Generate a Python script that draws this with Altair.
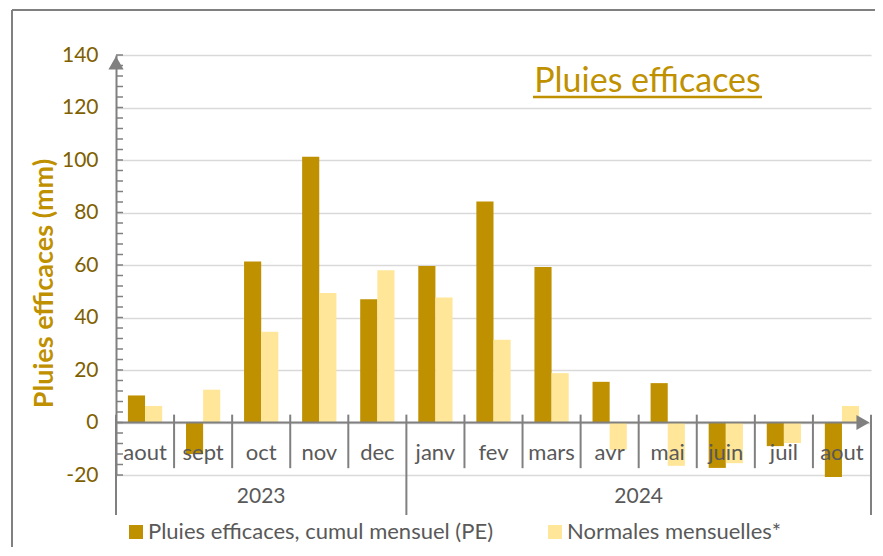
import altair as alt
import pandas as pd

# ---- data ----
months = ["aout", "sept", "oct", "nov", "dec", "janv", "fev", "mars",
          "avr", "mai", "juin", "juil", "aout"]
years = ["2023"] * 5 + ["2024"] * 8
pe = [10.3, -12.0, 61.3, 101.2, 47.0, 59.6, 84.2, 59.2, 15.5, 15.0, -17.3, -9.0, -20.8]
normales = [6.3, 12.5, 34.6, 49.3, 58.0, 47.6, 31.5, 18.8, -10.4, -16.5, -15.5, -7.8, 6.3]
series_names = ["Pluies efficaces, cumul mensuel (PE)", "Normales mensuelles*"]
series_colors = ["#BF9000", "#FFE699"]
year_labels = ["2023", "2024"]
year_bounds = [0, 5, 13]
month_bounds = [1, 2, 3, 4, 6, 7, 8, 9, 10, 11, 12]
y_major = [-20, 0, 20, 40, 60, 80, 100, 120, 140]
y_minor = list(range(-20, 141, 4))

W, H = 755, 420
FONT = "Lato"
GRAY = "#808080"
TXT = "#595959"

keys = [f"{y}-{m}" for y, m in zip(years, months)]

bars_df = pd.DataFrame(
    [{"key": k, "series": series_names[0], "value": v} for k, v in zip(keys, pe)]
    + [{"key": k, "series": series_names[1], "value": v} for k, v in zip(keys, normales)]
)
month_df = pd.DataFrame({"key": keys, "month": months})
year_df = pd.DataFrame({
    "year": year_labels,
    "center": [(year_bounds[i] + year_bounds[i + 1]) / 2 for i in range(len(year_labels))],
})
ysep_df = pd.DataFrame({"pos": year_bounds})
msep_df = pd.DataFrame({"pos": month_bounds})
minor_df = pd.DataFrame({"v": y_minor})
one = pd.DataFrame({"a": [0]})

xband = alt.Scale(paddingInner=0.41, paddingOuter=0.205)
yscale = alt.Scale(domain=[-20, 140], nice=False, zero=False)

bars = alt.Chart(bars_df).mark_bar().encode(
    x=alt.X("key:N", sort=keys, scale=xband, axis=None),
    xOffset=alt.XOffset("series:N", sort=series_names),
    y=alt.Y("value:Q", scale=yscale,
            axis=alt.Axis(values=y_major, title="Pluies efficaces (mm)",
                          labelExpr="'' + datum.value",
                          grid=True, gridColor="#D9D9D9", gridWidth=1.5,
                          domain=True, domainColor=GRAY, domainWidth=2,
                          ticks=False, labelPadding=18,
                          labelFont=FONT, labelFontSize=21, labelColor="#7F6000",
                          titleFont=FONT, titleFontSize=27, titleFontWeight="bold",
                          titleColor="#BF9000", titleX=-72, titleY=228,
                          titleAngle=-90, titleBaseline="middle", titleAlign="center")),
    color=alt.Color("series:N", sort=series_names,
                    scale=alt.Scale(domain=series_names, range=series_colors),
                    legend=alt.Legend(orient="none", legendX=9, legendY=466,
                                      direction="horizontal", title=None,
                                      symbolType="square", symbolSize=196,
                                      symbolStrokeWidth=0, labelOffset=1,
                                      labelLimit=0,
                                      labelFont=FONT, labelFontSize=22,
                                      labelColor=TXT, columnPadding=50, padding=0)),
)

month_text = alt.Chart(month_df).mark_text(
    font=FONT, fontSize=22, color=TXT, baseline="middle", align="center"
).encode(
    x=alt.X("key:N", sort=keys, scale=xband, axis=None),
    y=alt.datum(-11.6),
    text="month:N",
)

layer_a = alt.layer(bars, month_text)

xlin = alt.Scale(domain=[0, 13], nice=False, zero=False)

year_sep = alt.Chart(ysep_df).mark_rule(color=GRAY, strokeWidth=2).encode(
    x=alt.X("pos:Q", scale=xlin, axis=None),
    y=alt.datum(3),
    y2=alt.value(H + 40),
)
month_sep = alt.Chart(msep_df).mark_rule(color=GRAY, strokeWidth=2).encode(
    x=alt.X("pos:Q", scale=xlin, axis=None),
    y=alt.datum(3),
    y2=alt.datum(-17.4),
)
year_text = alt.Chart(year_df).mark_text(
    font=FONT, fontSize=21, color=TXT, baseline="middle", align="center"
).encode(
    x=alt.X("center:Q", scale=xlin, axis=None),
    y=alt.value(H + 22),
    text="year:N",
)
x_line = alt.Chart(one).mark_rule(color=GRAY, strokeWidth=2).encode(
    y=alt.datum(0), x=alt.value(0), x2=alt.value(W - 10),
)
x_arrow = alt.Chart(one).mark_point(shape="triangle-right", filled=True,
                                     size=230, color=GRAY, opacity=1).encode(
    y=alt.datum(0), x=alt.value(W - 8),
)
y_arrow = alt.Chart(one).mark_point(shape="triangle-up", filled=True,
                                     size=230, color=GRAY, opacity=1).encode(
    y=alt.datum(137), x=alt.value(0),
)
minor_ticks = alt.Chart(minor_df).mark_rule(color=GRAY, strokeWidth=1.5).encode(
    y=alt.Y("v:Q"), x=alt.value(0), x2=alt.value(7),
)
title_text = alt.Chart(one).mark_text(
    text="Pluies efficaces", font=FONT, fontSize=34, color="#BF9000",
    baseline="alphabetic", align="center"
).encode(x=alt.value(531.5), y=alt.value(37))
underline = alt.Chart(one).mark_rule(color="#BF9000", strokeWidth=2.5).encode(
    x=alt.value(417), x2=alt.value(646), y=alt.value(42),
)
frame_left = alt.Chart(one).mark_rule(color=GRAY, strokeWidth=2).encode(
    x=alt.value(-104), y=alt.value(-45), y2=alt.value(H + 90),
)
frame_top = alt.Chart(one).mark_rule(color=GRAY, strokeWidth=2).encode(
    y=alt.value(-45), x=alt.value(-104), x2=alt.value(W + 30),
)

layer_b = alt.layer(year_sep, month_sep, year_text, x_line, x_arrow, y_arrow,
                    minor_ticks, title_text, underline, frame_left, frame_top)

chart = alt.layer(layer_a, layer_b).resolve_scale(x="independent").properties(
    width=W, height=H,
    autosize=alt.AutoSizeParams(type="none"),
    padding={"left": 108, "top": 47, "right": 4, "bottom": 72},
).configure_view(stroke=None)

chart.save("out.html", embed_options={"renderer": "svg", "actions": False})
